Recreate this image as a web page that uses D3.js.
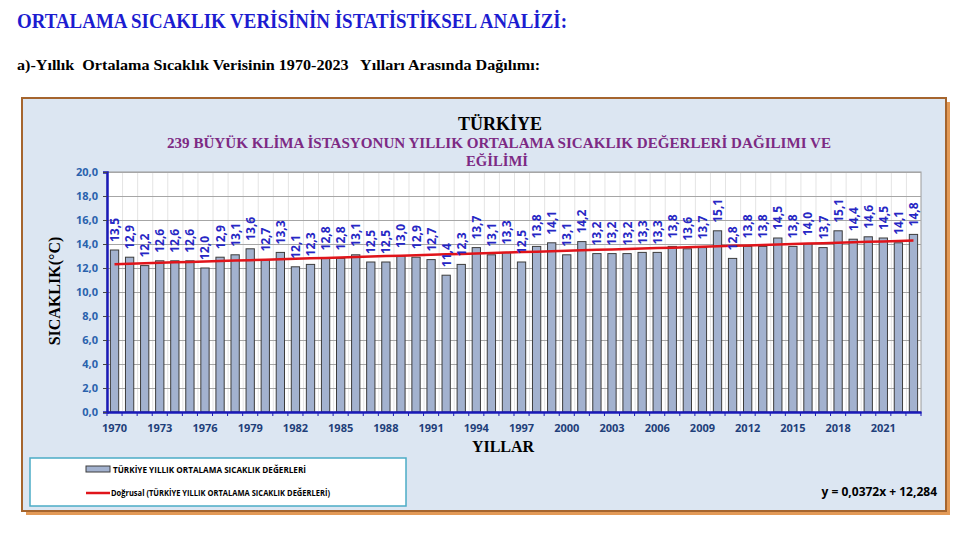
<!DOCTYPE html>
<html><head><meta charset="utf-8">
<script src="https://cdn.jsdelivr.net/npm/d3@7"></script>
<style>html,body{margin:0;padding:0;background:#fff;}svg{display:block;}</style>
</head><body>
<svg id="c" width="963" height="536"></svg>
<script>
const years = d3.range(1970, 2024);
const temps = [13.5,12.9,12.2,12.6,12.6,12.6,12.0,12.9,13.1,13.6,
               12.7,13.3,12.1,12.3,12.8,12.8,13.1,12.5,12.5,13.0,
               12.9,12.7,11.4,12.3,13.7,13.1,13.3,12.5,13.8,14.1,
               13.1,14.2,13.2,13.2,13.2,13.3,13.3,13.8,13.6,13.7,
               15.1,12.8,13.8,13.8,14.5,13.8,14.0,13.7,15.1,14.4,
               14.6,14.5,14.1,14.8];
const yTicks = [0,2,4,6,8,10,12,14,16,18,20];
const xTickYears = [1970,1973,1976,1979,1982,1985,1988,1991,1994,1997,2000,2003,2006,2009,2012,2015,2018,2021];
const trendSlope = 0.0372, trendIntercept = 12.284;
const pageTitle = "ORTALAMA SICAKLIK VERİSİNİN İSTATİSTİKSEL ANALİZİ:";
const pageSub = "a)-Yıllık  Ortalama Sıcaklık Verisinin 1970-2023   Yılları Arasında Dağılımı:";
const chartTitle = "TÜRKİYE";
const chartSub1 = "239 BÜYÜK KLİMA İSTASYONUN YILLIK ORTALAMA SICAKLIK DEĞERLERİ DAĞILIMI  VE";
const chartSub2 = "EĞİLİMİ";
const legend1 = "TÜRKİYE YILLIK ORTALAMA SICAKLIK DEĞERLERİ";
const legend2 = "Doğrusal (TÜRKİYE YILLIK ORTALAMA SICAKLIK DEĞERLERİ)";
const equation = "y = 0,0372x + 12,284";

const svg = d3.select("#c");
const fmt = v => d3.format(".1f")(v).replace(".", ",");
const serif = "'Liberation Serif','DejaVu Serif',serif";
const sans = "'Open Sans','DejaVu Sans',sans-serif";

// page headings
svg.append("text").attr("x",17).attr("y",28).attr("font-family",serif).attr("font-weight","bold")
  .attr("font-size",20).attr("fill","#1c1cd0").attr("textLength",550).attr("lengthAdjust","spacingAndGlyphs").text(pageTitle);
svg.append("text").attr("x",17).attr("y",70).attr("font-family",serif).attr("font-weight","bold")
  .attr("font-size",14).attr("fill","#000").style("white-space","pre")
  .attr("textLength",523).attr("lengthAdjust","spacingAndGlyphs").text(pageSub);

// frame with shadow
svg.append("rect").attr("x",26).attr("y",102).attr("width",924).attr("height",413).attr("fill","#e39a57");
svg.append("rect").attr("x",22).attr("y",98).attr("width",924).attr("height",413)
  .attr("fill","#dce6f2").attr("stroke","#a5652e").attr("stroke-width",2);

// plot area
const m = {l:107, r:921, t:172, b:412};
const x = d3.scaleBand().domain(years).range([m.l, m.r]).paddingInner(0.45).paddingOuter(0.225);
const xb = d3.scaleBand().domain(years).range([m.l, m.r]);
const y = d3.scaleLinear().domain([0,20]).range([m.b, m.t]);

svg.append("rect").attr("x",m.l).attr("y",m.t).attr("width",m.r-m.l).attr("height",m.b-m.t)
  .attr("fill","#fff").attr("stroke","#9a9a9a").attr("stroke-width",1);

// vertical light grid
svg.append("g").selectAll("line").data(years.slice(1)).join("line")
  .attr("x1",d=>xb(d)+0.5).attr("x2",d=>xb(d)+0.5).attr("y1",m.t).attr("y2",m.b)
  .attr("stroke","#e4e4e4").attr("stroke-width",1);
// horizontal grid
svg.append("g").selectAll("line").data(yTicks.slice(1)).join("line")
  .attr("x1",m.l).attr("x2",m.r).attr("y1",d=>y(d)+0.5).attr("y2",d=>y(d)+0.5)
  .attr("stroke","#a6a6a6").attr("stroke-width",1);

// bars
svg.append("g").selectAll("rect").data(temps).join("rect")
  .attr("x",(d,i)=>x(years[i])).attr("width",x.bandwidth())
  .attr("y",d=>y(d)).attr("height",d=>y(0)-y(d))
  .attr("fill","#a3b2cf").attr("stroke","#3c3c3c").attr("stroke-width",1);

// trend line
const trend = years.map((yr,i)=>({yr, v: trendSlope*(i+1)+trendIntercept}));
svg.append("path").datum(trend)
  .attr("d", d3.line().x(d=>xb(d.yr)+xb.bandwidth()/2).y(d=>y(d.v)))
  .attr("fill","none").attr("stroke","#e0141a").attr("stroke-width",2.5);

// value labels
svg.append("g").selectAll("text").data(temps).join("text")
  .attr("transform",(d,i)=>`translate(${xb(years[i])+xb.bandwidth()/2+4.5},${y(d)-8}) rotate(-90)`)
  .attr("font-family",sans).attr("font-weight",700).attr("font-size",12)
  .attr("fill","#2626c4").text(d=>fmt(d));

// y axis
const yAxis = svg.append("g").attr("transform",`translate(${m.l},0)`)
  .call(d3.axisLeft(y).tickValues(yTicks).tickFormat(fmt).tickSize(4).tickPadding(5));
yAxis.select(".domain").attr("stroke","#1a1ab8").attr("stroke-width",2.5);
yAxis.selectAll(".tick line").attr("stroke","#444");
yAxis.selectAll("text").attr("font-family",sans).attr("font-weight",700).attr("font-size",11).attr("fill","#2a62ad");

// x axis
const xAxis = svg.append("g").attr("transform",`translate(0,${m.b})`)
  .call(d3.axisBottom(xb).tickValues(xTickYears).tickSize(0).tickPadding(12));
xAxis.select(".domain").attr("stroke","#1a1ab8").attr("stroke-width",2.5);
xAxis.selectAll("text").attr("font-family",sans).attr("font-weight",700).attr("font-size",11).attr("fill","#1f3f7a");
svg.append("g").selectAll("line").data(years.concat([2024])).join("line")
  .attr("x1",d=>d===2024? m.r : xb(d)).attr("x2",d=>d===2024? m.r : xb(d))
  .attr("y1",m.b).attr("y2",m.b+4).attr("stroke","#1a1ab8").attr("stroke-width",1);

// titles
svg.append("text").attr("x",500).attr("y",130).attr("text-anchor","middle").attr("font-family",serif)
  .attr("font-weight","bold").attr("font-size",18).attr("fill","#000").text(chartTitle);
svg.append("text").attr("x",499).attr("y",148).attr("text-anchor","middle").attr("font-family",serif)
  .attr("font-weight","bold").attr("font-size",15).attr("fill","#7d2a84")
  .attr("textLength",664).attr("lengthAdjust","spacingAndGlyphs").text(chartSub1);
svg.append("text").attr("x",497).attr("y",166).attr("text-anchor","middle").attr("font-family",serif)
  .attr("font-weight","bold").attr("font-size",15).attr("fill","#7d2a84")
  .attr("textLength",62).attr("lengthAdjust","spacingAndGlyphs").text(chartSub2);

svg.append("text").attr("transform","translate(60,291) rotate(-90)").attr("text-anchor","middle")
  .attr("font-family",serif).attr("font-weight","bold").attr("font-size",16).attr("fill","#000").text("SICAKLIK(°C)");
svg.append("text").attr("x",503).attr("y",452).attr("text-anchor","middle")
  .attr("font-family",serif).attr("font-weight","bold").attr("font-size",16).attr("fill","#000").text("YILLAR");

// legend
svg.append("rect").attr("x",30).attr("y",458).attr("width",376).attr("height",48)
  .attr("fill","#fff").attr("stroke","#4bacc6").attr("stroke-width",1.5);
svg.append("rect").attr("x",86).attr("y",466).attr("width",24).attr("height",6)
  .attr("fill","#a3b2cf").attr("stroke","#3c3c3c").attr("stroke-width",1);
svg.append("text").attr("x",113).attr("y",472.5).attr("font-family",sans).attr("font-weight",700)
  .attr("font-size",8.5).attr("fill","#000").attr("textLength",193).attr("lengthAdjust","spacingAndGlyphs").text(legend1);
svg.append("line").attr("x1",86).attr("x2",110).attr("y1",493).attr("y2",493).attr("stroke","#e0141a").attr("stroke-width",2.5);
svg.append("text").attr("x",111).attr("y",496).attr("font-family",sans).attr("font-weight",700)
  .attr("font-size",8.5).attr("fill","#000").attr("textLength",219).attr("lengthAdjust","spacingAndGlyphs").text(legend2);

svg.append("text").attr("x",937).attr("y",496).attr("text-anchor","end").attr("font-family",sans)
  .attr("font-weight",700).attr("font-size",12).attr("fill","#000").text(equation);
</script>
</body></html>
